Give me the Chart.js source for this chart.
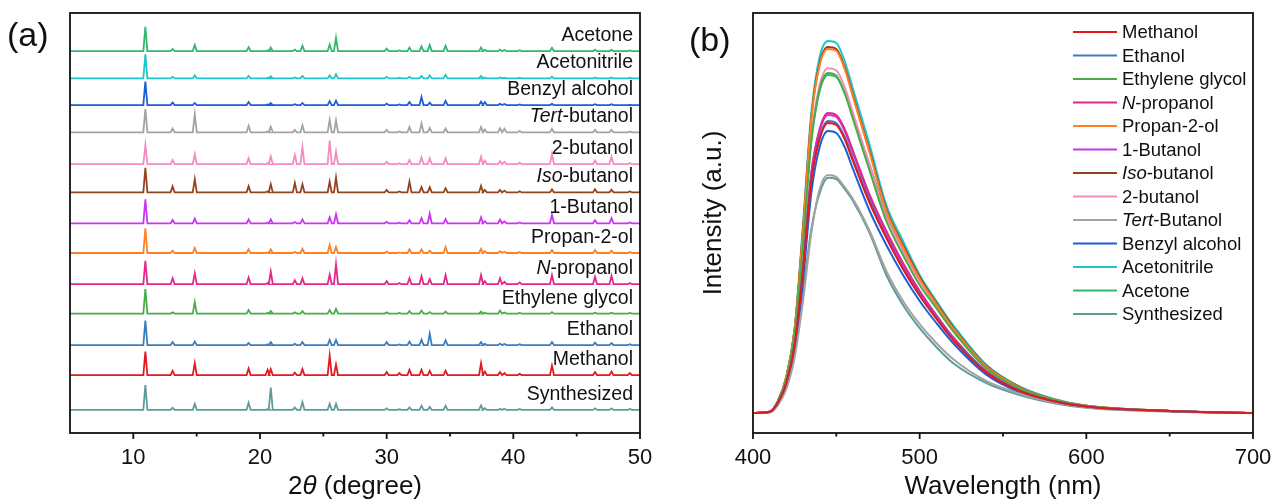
<!DOCTYPE html>
<html>
<head>
<meta charset="utf-8">
<script src="https://cdn.jsdelivr.net/npm/chart.js@4.4.1/dist/chart.umd.min.js"></script>
<style>
  body { margin: 0; background: #fff; }
  #wrap { position: relative; width: 1274px; height: 501px; }
  #xrd { position: absolute; left: 0; top: 0; }
  #pl { position: absolute; left: 660px; top: 0; }
</style>
</head>
<body>
<div id="wrap">
  <canvas id="xrd" width="660" height="501"></canvas>
  <canvas id="pl" width="614" height="501"></canvas>
</div>
<script>
// ---------- panel (a): XRD patterns ----------
// peak positions (2theta, degree) shared by all patterns
const twoTheta = [10.95, 13.1, 14.85, 19.1, 20.6, 20.85, 22.75, 23.35, 25.5, 26.0,
  30.0, 31.0, 31.8, 32.75, 33.4, 34.65, 37.45, 37.75, 38.95, 39.3, 40.5, 43.05, 46.45, 47.75, 49.2];

// bottom to top
const xrdLabels = ['Synthesized', 'Methanol', 'Ethanol', 'Ethylene glycol', '<i>N</i>-propanol',
  'Propan-2-ol', '1-Butanol', '<i>Iso</i>-butanol', '2-butanol', '<i>Tert</i>-butanol',
  'Benzyl alcohol', 'Acetonitrile', 'Acetone'];
const xrdOffsets = [0.77, 1.93, 2.93, 3.98, 4.96, 6.0, 6.99, 8.02, 8.96, 10.02, 10.93, 11.82, 12.73];

// peak heights, same order as twoTheta
const hSynthesized = [0.83, 0.07, 0.2, 0.24, 0.02, 0.74, 0.08, 0.26, 0.2, 0.2, 0.05, 0.02, 0.08, 0.14, 0.1, 0.14, 0.15, 0.06, 0.04, 0.04, 0.03, 0.08, 0.05, 0.05, 0.03];
const hMethanol = [0.78, 0.14, 0.4, 0.22, 0.18, 0.2, 0.08, 0.2, 0.64, 0.35, 0.1, 0.07, 0.18, 0.18, 0.14, 0.15, 0.4, 0.12, 0.1, 0.07, 0.04, 0.32, 0.1, 0.12, 0.07];
const hEthanol = [0.82, 0.1, 0.12, 0.07, 0.02, 0.1, 0.04, 0.1, 0.17, 0.17, 0.1, 0.02, 0.12, 0.18, 0.38, 0.16, 0.1, 0.04, 0.05, 0.04, 0.03, 0.1, 0.08, 0.07, 0.03];
const hEthyleneGlycol = [0.82, 0.04, 0.38, 0.12, 0.02, 0.09, 0.04, 0.08, 0.12, 0.16, 0.04, 0.02, 0.08, 0.1, 0.05, 0.07, 0.07, 0.03, 0.1, 0.04, 0.02, 0.05, 0.03, 0.03, 0.02];
const hNPropanol = [0.78, 0.2, 0.36, 0.22, 0.04, 0.42, 0.13, 0.2, 0.32, 0.67, 0.1, 0.04, 0.2, 0.27, 0.17, 0.3, 0.3, 0.1, 0.2, 0.08, 0.06, 0.3, 0.25, 0.28, 0.04];
const hPropan2ol = [0.82, 0.08, 0.17, 0.12, 0.02, 0.12, 0.04, 0.14, 0.27, 0.2, 0.05, 0.02, 0.12, 0.12, 0.08, 0.2, 0.14, 0.06, 0.06, 0.04, 0.03, 0.1, 0.1, 0.08, 0.03];
const h1Butanol = [0.8, 0.11, 0.16, 0.13, 0.02, 0.13, 0.04, 0.13, 0.2, 0.3, 0.05, 0.02, 0.1, 0.17, 0.32, 0.14, 0.2, 0.07, 0.12, 0.06, 0.03, 0.28, 0.1, 0.17, 0.03];
const hIsoButanol = [0.82, 0.2, 0.44, 0.21, 0.03, 0.27, 0.32, 0.27, 0.36, 0.49, 0.08, 0.03, 0.36, 0.18, 0.17, 0.14, 0.22, 0.08, 0.08, 0.06, 0.04, 0.1, 0.11, 0.09, 0.04];
const h2Butanol = [0.64, 0.14, 0.33, 0.2, 0.03, 0.26, 0.31, 0.57, 0.79, 0.42, 0.08, 0.03, 0.14, 0.23, 0.2, 0.2, 0.25, 0.12, 0.1, 0.08, 0.05, 0.34, 0.12, 0.25, 0.04];
const hTertButanol = [0.78, 0.13, 0.6, 0.22, 0.03, 0.19, 0.08, 0.24, 0.42, 0.4, 0.08, 0.03, 0.18, 0.3, 0.15, 0.13, 0.18, 0.1, 0.14, 0.12, 0.05, 0.12, 0.09, 0.08, 0.03];
const hBenzylAlcohol = [0.78, 0.09, 0.07, 0.1, 0.02, 0.07, 0.03, 0.07, 0.13, 0.15, 0.05, 0.02, 0.1, 0.27, 0.08, 0.14, 0.12, 0.1, 0.04, 0.04, 0.02, 0.04, 0.03, 0.03, 0.01];
const hAcetonitrile = [0.8, 0.05, 0.1, 0.08, 0.02, 0.07, 0.03, 0.08, 0.1, 0.14, 0.05, 0.02, 0.05, 0.08, 0.1, 0.12, 0.08, 0.03, 0.03, 0.02, 0.02, 0.06, 0.03, 0.03, 0.02];
const hAcetone = [0.81, 0.07, 0.2, 0.13, 0.02, 0.12, 0.05, 0.18, 0.22, 0.44, 0.08, 0.02, 0.12, 0.16, 0.2, 0.18, 0.12, 0.04, 0.05, 0.04, 0.03, 0.11, 0.05, 0.04, 0.02];

const xrdHeights = [hSynthesized, hMethanol, hEthanol, hEthyleneGlycol, hNPropanol, hPropan2ol,
  h1Butanol, hIsoButanol, h2Butanol, hTertButanol, hBenzylAlcohol, hAcetonitrile, hAcetone];

// ---------- panel (b): PL spectra ----------
const wavelength = [400, 410, 415, 420, 425, 430, 435, 440, 445, 450, 455, 460, 470, 480, 490, 500, 510, 520, 540, 560, 580, 600, 650, 700];

const plLabels = ['Methanol', 'Ethanol', 'Ethylene glycol', '<i>N</i>-propanol', 'Propan-2-ol', '1-Butanol',
  '<i>Iso</i>-butanol', '2-butanol', '<i>Tert</i>-Butanol', 'Benzyl alcohol', 'Acetonitrile', 'Acetone', 'Synthesized'];

const plMethanol = [0, 0.003, 0.026, 0.075, 0.17, 0.355, 0.58, 0.685, 0.725, 0.72, 0.685, 0.63, 0.525, 0.438, 0.36, 0.293, 0.236, 0.183, 0.101, 0.055, 0.03, 0.016, 0.005, 0];
const plEthanol = [0, 0.003, 0.026, 0.075, 0.17, 0.36, 0.585, 0.69, 0.73, 0.725, 0.69, 0.635, 0.53, 0.44, 0.362, 0.295, 0.238, 0.185, 0.102, 0.055, 0.03, 0.016, 0.005, 0];
const plEthyleneGlycol = [0, 0.003, 0.03, 0.085, 0.2, 0.425, 0.68, 0.81, 0.85, 0.843, 0.8, 0.735, 0.605, 0.48, 0.395, 0.32, 0.262, 0.205, 0.112, 0.061, 0.033, 0.017, 0.005, 0];
const plNPropanol = [0, 0.003, 0.028, 0.08, 0.18, 0.37, 0.6, 0.71, 0.75, 0.745, 0.71, 0.655, 0.545, 0.455, 0.375, 0.305, 0.245, 0.19, 0.105, 0.057, 0.031, 0.016, 0.005, 0];
const plPropan2ol = [0, 0.003, 0.03, 0.09, 0.21, 0.455, 0.735, 0.87, 0.91, 0.905, 0.86, 0.79, 0.65, 0.505, 0.415, 0.335, 0.272, 0.212, 0.116, 0.063, 0.034, 0.018, 0.005, 0];
const pl1Butanol = [0, 0.003, 0.028, 0.08, 0.18, 0.37, 0.6, 0.705, 0.745, 0.74, 0.705, 0.65, 0.54, 0.45, 0.37, 0.3, 0.242, 0.188, 0.104, 0.056, 0.03, 0.016, 0.005, 0];
const plIsoButanol = [0, 0.003, 0.03, 0.09, 0.21, 0.46, 0.74, 0.875, 0.915, 0.91, 0.865, 0.795, 0.655, 0.51, 0.42, 0.34, 0.275, 0.215, 0.118, 0.064, 0.034, 0.018, 0.005, 0];
const pl2Butanol = [0, 0.003, 0.03, 0.085, 0.2, 0.43, 0.69, 0.82, 0.862, 0.856, 0.815, 0.75, 0.62, 0.49, 0.405, 0.33, 0.268, 0.21, 0.115, 0.062, 0.033, 0.017, 0.005, 0];
const plTertButanol = [0, 0.002, 0.02, 0.06, 0.14, 0.28, 0.45, 0.56, 0.595, 0.59, 0.565, 0.535, 0.455, 0.355, 0.28, 0.222, 0.175, 0.135, 0.08, 0.048, 0.027, 0.014, 0.004, 0];
const plBenzylAlcohol = [0, 0.002, 0.022, 0.065, 0.15, 0.33, 0.55, 0.665, 0.705, 0.7, 0.665, 0.61, 0.505, 0.42, 0.345, 0.28, 0.225, 0.175, 0.096, 0.052, 0.028, 0.015, 0.005, 0];
const plAcetonitrile = [0, 0.003, 0.03, 0.09, 0.21, 0.47, 0.75, 0.89, 0.93, 0.925, 0.88, 0.81, 0.67, 0.52, 0.43, 0.345, 0.28, 0.22, 0.12, 0.065, 0.035, 0.018, 0.005, 0];
const plAcetone = [0, 0.003, 0.03, 0.09, 0.21, 0.43, 0.68, 0.805, 0.845, 0.84, 0.8, 0.74, 0.62, 0.5, 0.415, 0.34, 0.278, 0.218, 0.12, 0.066, 0.036, 0.018, 0.005, 0];
const plSynthesized = [0, 0.002, 0.022, 0.07, 0.16, 0.3, 0.46, 0.55, 0.588, 0.585, 0.56, 0.53, 0.45, 0.345, 0.27, 0.212, 0.165, 0.125, 0.075, 0.045, 0.025, 0.013, 0.004, 0];

const plSeries = [plMethanol, plEthanol, plEthyleneGlycol, plNPropanol, plPropan2ol, pl1Butanol,
  plIsoButanol, pl2Butanol, plTertButanol, plBenzylAlcohol, plAcetonitrile, plAcetone, plSynthesized];

// colours per solvent
const solventColor = {
  'Synthesized': '#5f9c99', 'Methanol': '#e3191f', 'Ethanol': '#3a7dc0', 'Ethylene glycol': '#48ad48',
  'N-propanol': '#e2288a', 'Propan-2-ol': '#ff8024', '1-Butanol': '#c935f2', 'Iso-butanol': '#924420',
  '2-butanol': '#f38cbf', 'Tert-butanol': '#a3a3a3', 'Tert-Butanol': '#a3a3a3', 'Benzyl alcohol': '#1d5ed8',
  'Acetonitrile': '#1fc6c9', 'Acetone': '#2fb86f'
};

const FONT = '"Liberation Sans", Arial, sans-serif';
const plain = s => s.replace(/<\/?i>/g, '');

// draw text where <i>..</i> parts are italic
function richText(ctx, str, x, y, size, align) {
  const parts = str.split(/(<i>.*?<\/i>)/).filter(p => p).map(p => {
    const it = p.startsWith('<i>');
    return { t: plain(p), font: (it ? 'italic ' : '') + size + 'px ' + FONT };
  });
  let w = 0;
  parts.forEach(p => { ctx.font = p.font; p.w = ctx.measureText(p.t).width; w += p.w; });
  let cx = align === 'right' ? x - w : align === 'center' ? x - w / 2 : x;
  ctx.textAlign = 'left';
  parts.forEach(p => { ctx.font = p.font; ctx.fillText(p.t, cx, y); cx += p.w; });
}

function drawFrame(chart, majors, minors) {
  const { ctx, chartArea: a, scales: { x } } = chart;
  ctx.save();
  ctx.strokeStyle = '#111';
  ctx.lineWidth = 1.8;
  ctx.strokeRect(a.left, a.top, a.right - a.left, a.bottom - a.top);
  ctx.beginPath();
  majors.forEach(v => { const p = x.getPixelForValue(v); ctx.moveTo(p, a.bottom); ctx.lineTo(p, a.bottom + 6); });
  minors.forEach(v => { const p = x.getPixelForValue(v); ctx.moveTo(p, a.bottom); ctx.lineTo(p, a.bottom + 3.5); });
  ctx.stroke();
  ctx.restore();
}

const PEAK_HALF = 0.16;
function pattern(heights, base) {
  const pts = [{ x: 5, y: base }];
  twoTheta.forEach((p, k) => {
    pts.push({ x: p - PEAK_HALF, y: base }, { x: p, y: base + heights[k] }, { x: p + PEAK_HALF, y: base });
  });
  pts.push({ x: 50, y: base });
  return pts;
}

const xTicks = (fontSize, pad) => ({
  color: '#111', font: { size: fontSize, family: FONT }, padding: pad,
  autoSkip: false, maxRotation: 0
});
// fixed axis box, no extra room for overhanging end labels
const fitX = s => { s.height = 68; s.paddingLeft = 0; s.paddingRight = 0; };

// ---- chart (a)
new Chart(document.getElementById('xrd'), {
  type: 'line',
  data: {
    datasets: xrdLabels.map((name, i) => ({
      label: plain(name),
      data: pattern(xrdHeights[i], xrdOffsets[i]),
      borderColor: solventColor[plain(name)],
      borderWidth: 1.8,
      pointRadius: 0,
      tension: 0
    }))
  },
  options: {
    responsive: false,
    animation: false,
    devicePixelRatio: 1,
    layout: { padding: { left: 70, right: 20, top: 13, bottom: 0 } },
    plugins: { legend: { display: false }, tooltip: { enabled: false } },
    scales: {
      x: {
        type: 'linear', min: 5, max: 50,
        grid: { display: false, drawTicks: false }, border: { display: false },
        afterBuildTicks: s => { s.ticks = [10, 20, 30, 40, 50].map(v => ({ value: v })); },
        afterFit: fitX,
        ticks: xTicks(22, 12)
      },
      y: { type: 'linear', min: 0, max: 14, display: false }
    }
  },
  plugins: [{
    id: 'xrdDecor',
    afterDraw(chart) {
      const { ctx, chartArea: a, scales: { y } } = chart;
      drawFrame(chart, [10, 20, 30, 40, 50], [15, 25, 35, 45]);
      ctx.save();
      ctx.fillStyle = '#111';
      ctx.textBaseline = 'alphabetic';
      xrdLabels.forEach((name, i) => {
        richText(ctx, name, a.right - 7, y.getPixelForValue(xrdOffsets[i]) - 10, 19.5, 'right');
      });
      richText(ctx, '2<i>θ</i> (degree)', (a.left + a.right) / 2, 494, 26, 'center');
      richText(ctx, '(a)', 7, 46, 34, 'left');
      ctx.restore();
    }
  }]
});

// ---- chart (b)
new Chart(document.getElementById('pl'), {
  type: 'line',
  data: {
    datasets: plLabels.map((name, i) => ({
      label: plain(name),
      data: wavelength.map((w, k) => ({ x: w, y: plSeries[i][k] })),
      borderColor: solventColor[plain(name)],
      borderWidth: 2,
      pointRadius: 0,
      cubicInterpolationMode: 'monotone'
    }))
  },
  options: {
    responsive: false,
    animation: false,
    devicePixelRatio: 1,
    layout: { padding: { left: 93, right: 21, top: 13, bottom: 0 } },
    plugins: { legend: { display: false }, tooltip: { enabled: false } },
    scales: {
      x: {
        type: 'linear', min: 400, max: 700,
        grid: { display: false, drawTicks: false }, border: { display: false },
        afterBuildTicks: s => { s.ticks = [400, 500, 600, 700].map(v => ({ value: v })); },
        afterFit: fitX,
        ticks: xTicks(22, 12)
      },
      y: { type: 'linear', min: -0.05, max: 1.0, display: false }
    }
  },
  plugins: [{
    id: 'plDecor',
    afterDraw(chart) {
      const { ctx, chartArea: a } = chart;
      drawFrame(chart, [400, 500, 600, 700], [450, 550, 650]);
      ctx.save();
      ctx.fillStyle = '#111';
      ctx.textBaseline = 'middle';
      plLabels.forEach((name, i) => {
        const yy = 32 + i * 23.5;
        ctx.strokeStyle = solventColor[plain(name)];
        ctx.lineWidth = 2;
        ctx.beginPath();
        ctx.moveTo(413, yy); ctx.lineTo(457, yy);
        ctx.stroke();
        richText(ctx, name, 462, yy + 1, 18.5, 'left');
      });
      ctx.textBaseline = 'alphabetic';
      richText(ctx, 'Wavelength (nm)', (a.left + a.right) / 2, 494, 26, 'center');
      richText(ctx, '(b)', 29, 51, 34, 'left');
      ctx.translate(54, 213);
      ctx.rotate(-Math.PI / 2);
      ctx.textBaseline = 'middle';
      richText(ctx, 'Intensity (a.u.)', 0, 0, 26, 'center');
      ctx.restore();
    }
  }]
});
</script>
</body>
</html>
